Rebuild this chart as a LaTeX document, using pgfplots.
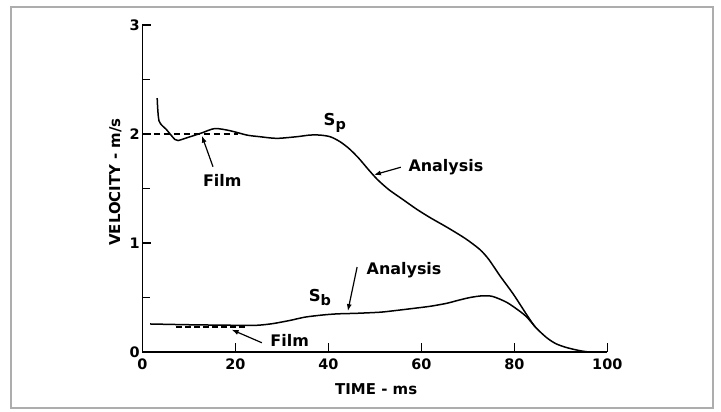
\documentclass[border=0pt]{standalone}
\usepackage{pgfplots}
\pgfplotsset{compat=1.18}
\usepackage{fontspec}
\setmainfont{DejaVu Sans}[BoldFont={DejaVu Sans Bold}]
\usetikzlibrary{arrows.meta}
\begin{document}
\begin{tikzpicture}
\path[use as bounding box] (0,0) rectangle (721bp,412bp);
\draw[line width=2.5bp, color=black!32] (11bp,4bp) rectangle (713bp,405bp);
\begin{axis}[
  at={(142.3bp,60bp)}, anchor=south west,
  scale only axis, width=465bp, height=327bp,
  xmin=0, xmax=100, ymin=0, ymax=3,
  axis lines=left, axis line style={-, line width=1.3bp},
  xtick={20,40,60,80,100}, extra x ticks={0}, extra x tick style={major tick length=0pt},
  ytick={0,1,2,3}, minor ytick={0.5,1.5,2.5},
  tick align=inside, major tick length=9bp, minor tick length=8bp,
  tick style={line width=1.2bp, black},
  ticklabel style={font=\bfseries\fontsize{14.5}{18}\selectfont},
  /pgf/number format/assume math mode=true,
  xticklabel style={yshift=-3bp},
  yticklabel style={xshift=1bp},
  xlabel={TIME - ms}, ylabel={VELOCITY - m/s},
  label style={font=\bfseries\fontsize{15}{19}\selectfont},
  xlabel style={at={(axis description cs:0.503,-0.113)}, anchor=center},
  ylabel style={at={(axis description cs:-0.058,0.52)}, anchor=center, rotate=0},
  clip=false,
]
% S_p analysis
\addplot[black, line width=1.5bp, smooth, tension=0.45] coordinates {
(3.2,2.33) (3.6,2.12) (5.2,2.04) (7.0,1.95) (7.7,1.94) (10.3,1.975) (12.8,2.01)
(15.6,2.05) (18.9,2.03) (22.5,1.99) (25.3,1.975) (28.9,1.96) (33.2,1.975) (36,1.99)
(38.2,1.99) (40.4,1.975) (42.5,1.93) (44.5,1.865) (46.5,1.78) (48.5,1.68) (50.5,1.585)
(53,1.49) (56,1.40) (59,1.31) (62,1.23) (65.5,1.145) (69.5,1.04) (72.6,0.94) (74.5,0.85)
(76.9,0.70) (79.8,0.53) (82.7,0.34) (84.5,0.23) (87,0.13) (89,0.075) (91.3,0.04)
(94.1,0.012) (96,0.0)
};
% S_p film
\addplot[black, line width=1.3bp, dash pattern=on 6bp off 4bp] coordinates {(0.3,2.0) (20.5,2.0)};
% S_b analysis
\addplot[black, line width=1.5bp, smooth, tension=0.45] coordinates {
(1.7,0.257) (10,0.25) (20,0.245) (24.6,0.245) (28,0.26) (31.8,0.29) (35,0.32)
(38.9,0.34) (42,0.35) (46.1,0.355) (51.1,0.365) (54,0.378) (58.3,0.40) (62,0.42)
(65.5,0.447) (68,0.475) (70.5,0.50) (73,0.515) (75.3,0.51) (78.4,0.455) (81.3,0.37)
(82.7,0.32) (84.5,0.23)
};
% S_b film
\addplot[black, line width=1.8bp, dash pattern=on 6bp off 3bp] coordinates {(7.2,0.232) (22.5,0.232)};
% annotations
\node[font=\bfseries\fontsize{16.5}{19}\selectfont] at (axis cs:41.4,2.10) {S\raisebox{-0.45ex}{\fontsize{14.5}{15}\selectfont p}};
\node[font=\bfseries\fontsize{16.5}{19}\selectfont] at (axis cs:38.2,0.50) {S\raisebox{-0.45ex}{\fontsize{14.5}{15}\selectfont b}};
\node[font=\bfseries\fontsize{16}{19}\selectfont, anchor=west] at (axis cs:56.5,1.70) {Analysis};
\draw[line width=1.2bp, -{Latex[length=7bp,width=5bp]}] (axis cs:55.6,1.695) -- (axis cs:49.8,1.625);
\node[font=\bfseries\fontsize{16}{19}\selectfont, anchor=west] at (axis cs:47.5,0.75) {Analysis};
\draw[line width=1.2bp, -{Latex[length=7bp,width=5bp]}] (axis cs:46.2,0.78) -- (axis cs:44.2,0.375);
\node[font=\bfseries\fontsize{16}{19}\selectfont] at (axis cs:17.2,1.57) {Film};
\draw[line width=1.2bp, -{Latex[length=7bp,width=5bp]}] (axis cs:15.2,1.70) -- (axis cs:12.8,1.985);
\node[font=\bfseries\fontsize{16}{19}\selectfont, anchor=west] at (axis cs:26.8,0.11) {Film};
\draw[line width=1.2bp, -{Latex[length=7bp,width=5bp]}] (axis cs:25.7,0.085) -- (axis cs:19.2,0.205);
\end{axis}
\end{tikzpicture}
\end{document}
